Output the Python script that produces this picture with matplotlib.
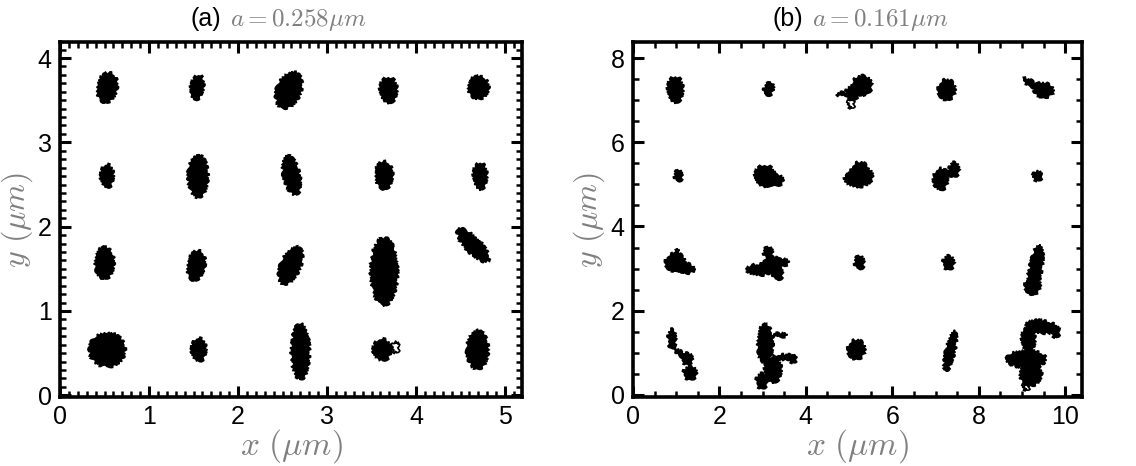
import matplotlib
matplotlib.use("Agg")
import matplotlib.pyplot as plt
from matplotlib.patches import Ellipse
from matplotlib.ticker import MultipleLocator

plt.rcParams['mathtext.fontset'] = 'cm'
plt.rcParams['font.family'] = ['Liberation Sans', 'DejaVu Sans']

# trap sites, panel (a): blob centre, size (um) and tilt (deg)
a_cx = [0.53, 1.54, 2.57, 3.69, 4.70,
        0.53, 1.55, 2.60, 3.64, 4.72,
        0.50, 1.53, 2.59, 3.64, 4.64,
        0.53, 1.56, 2.70, 3.62, 4.69]
a_cy = [3.65, 3.65, 3.62, 3.62, 3.65,
        2.60, 2.60, 2.61, 2.61, 2.60,
        1.57, 1.54, 1.54, 1.47, 1.78,
        0.54, 0.54, 0.52, 0.54, 0.54]
a_w = [0.22, 0.14, 0.27, 0.19, 0.23,
       0.14, 0.22, 0.18, 0.19, 0.15,
       0.21, 0.19, 0.22, 0.30, 0.50,
       0.40, 0.16, 0.20, 0.20, 0.24]
a_h = [0.35, 0.29, 0.44, 0.30, 0.26,
       0.27, 0.50, 0.47, 0.32, 0.31,
       0.37, 0.35, 0.46, 0.80, 0.17,
       0.40, 0.27, 0.66, 0.25, 0.45]
a_ang = [-10, -10, -20, 0, 0,
         0, 0, 12, 0, 0,
         0, -10, -22, 0, -48,
         0, 0, 0, 0, 0]
# open loops in panel (a)
a_loop_cx = [3.77]
a_loop_cy = [0.57]
a_loop_w = [0.08]
a_loop_h = [0.12]

# panel (b): irregular tracks built from several pieces
b_cx = [0.98, 3.14, 5.30, 5.08, 4.90, 7.26, 9.50, 9.20,
        1.05, 3.05, 3.30, 5.20, 5.25, 5.42, 7.12, 7.43, 7.28, 9.36,
        0.98, 1.20, 1.02, 2.92, 3.20, 3.13, 3.35, 3.45, 5.24, 7.30, 9.31, 9.25,
        0.90, 1.25, 1.32, 1.08, 3.06, 3.24, 2.98, 3.52, 3.40, 3.70,
        5.17, 7.34, 9.45, 9.78, 9.15, 9.10, 9.20]
b_cy = [7.25, 7.26, 7.35, 7.18, 7.14, 7.25, 7.24, 7.40,
        5.20, 5.20, 5.10, 5.12, 5.30, 5.20, 5.12, 5.35, 5.27, 5.20,
        3.15, 3.02, 3.37, 2.97, 3.08, 3.38, 2.88, 3.15, 3.14, 3.14, 2.97, 2.60,
        1.33, 0.86, 0.52, 1.00, 1.22, 0.60, 0.33, 0.90, 1.42, 0.85,
        1.08, 1.04, 1.62, 1.50, 1.30, 0.85, 0.50]
b_w = [0.35, 0.21, 0.45, 0.30, 0.35, 0.39, 0.45, 0.40,
       0.17, 0.45, 0.35, 0.60, 0.40, 0.25, 0.32, 0.22, 0.30, 0.20,
       0.45, 0.45, 0.10, 0.55, 0.45, 0.20, 0.22, 0.30, 0.21, 0.25, 0.28, 0.35,
       0.17, 0.25, 0.30, 0.40, 0.35, 0.38, 0.25, 0.50, 0.30, 0.15,
       0.39, 0.20, 0.75, 0.18, 0.30, 0.90, 0.50]
b_h = [0.61, 0.31, 0.45, 0.30, 0.08, 0.47, 0.33, 0.12,
       0.26, 0.50, 0.25, 0.35, 0.45, 0.30, 0.50, 0.33, 0.14, 0.21,
       0.42, 0.22, 0.15, 0.25, 0.40, 0.25, 0.30, 0.15, 0.31, 0.31, 1.20, 0.40,
       0.45, 0.25, 0.30, 0.08, 0.90, 0.60, 0.35, 0.10, 0.08, 0.15,
       0.45, 0.95, 0.28, 0.25, 0.60, 0.40, 0.55]
b_ang = [0, -20, 30, 0, 0, 0, -10, -30,
         0, 0, 0, 0, 0, 0, 0, 0, 0, 0,
         0, -15, 0, 0, 0, 0, 0, 0, 0, 0, -10, 0,
         0, 0, 0, -40, 0, 0, 0, 0, 0, 0,
         0, -12, -8, 0, 0, 0, 0]
b_loop_cx = [5.05, 9.10]
b_loop_cy = [6.92, 0.20]
b_loop_w = [0.15, 0.15]
b_loop_h = [0.20, 0.15]

gray = '#808080'


def draw_blobs(ax, cx, cy, w, h, ang=None, filled=True):
    if ang is None:
        ang = [0] * len(cx)
    for x, y, ww, hh, a in zip(cx, cy, w, h, ang):
        e = Ellipse((x, y), ww, hh, angle=a,
                    facecolor='black' if filled else 'none',
                    edgecolor='black', lw=1.2)
        # ragged outline so the blobs read like dense scribbled tracks
        e.set_sketch_params(scale=1.5, length=3, randomness=6)
        ax.add_patch(e)


def style_axes(ax, xmaj, xmin, ymaj, ymin):
    ax.xaxis.set_major_locator(MultipleLocator(xmaj))
    ax.xaxis.set_minor_locator(MultipleLocator(xmin))
    ax.yaxis.set_major_locator(MultipleLocator(ymaj))
    ax.yaxis.set_minor_locator(MultipleLocator(ymin))
    ax.tick_params(which='both', direction='in', top=True, right=True,
                   labelsize=18, pad=6)
    ax.tick_params(which='major', length=8, width=2.2)
    ax.tick_params(which='minor', length=4, width=1.8)
    for s in ax.spines.values():
        s.set_linewidth(2.6)
    ax.set_xlabel(r'$x\ (\mu m)$', color=gray, fontsize=24)
    ax.set_ylabel(r'$y\ (\mu m)$', color=gray, fontsize=23)


fig = plt.figure(figsize=(11.36, 4.66), dpi=100)
ax_a = fig.add_axes([60 / 1136, 1 - 397 / 466, 462 / 1136, 355 / 466])
ax_b = fig.add_axes([633 / 1136, 1 - 397 / 466, 449 / 1136, 355 / 466])

draw_blobs(ax_a, a_cx, a_cy, a_w, a_h, a_ang)
draw_blobs(ax_a, a_loop_cx, a_loop_cy, a_loop_w, a_loop_h, filled=False)
ax_a.set_xlim(0, 5.19)
ax_a.set_ylim(-0.02, 4.19)
style_axes(ax_a, 1, 0.1, 1, 0.1)
ax_a.xaxis.set_label_coords(0.5, -0.085)
ax_a.yaxis.set_label_coords(-0.055, 0.5)

draw_blobs(ax_b, b_cx, b_cy, b_w, b_h, b_ang)
draw_blobs(ax_b, b_loop_cx, b_loop_cy, b_loop_w, b_loop_h, filled=False)
ax_b.set_xlim(0, 10.39)
ax_b.set_ylim(-0.05, 8.38)
style_axes(ax_b, 2, 0.5, 2, 0.5)
ax_b.xaxis.set_label_coords(0.5, -0.085)
ax_b.yaxis.set_label_coords(-0.058, 0.5)

# panel titles: black tag plus grey math
for ax, tag, val, xc in [(ax_a, '(a)', r'$a = 0.258\mu m$', 0.36),
                         (ax_b, '(b)', r'$a = 0.161\mu m$', 0.39)]:
    ax.text(xc - 0.012, 1.045, tag, transform=ax.transAxes, ha='right',
            va='baseline', fontsize=18, color='black')
    ax.text(xc + 0.008, 1.045, val, transform=ax.transAxes, ha='left',
            va='baseline', fontsize=18, color=gray)

fig.savefig('out.png', dpi=100)
